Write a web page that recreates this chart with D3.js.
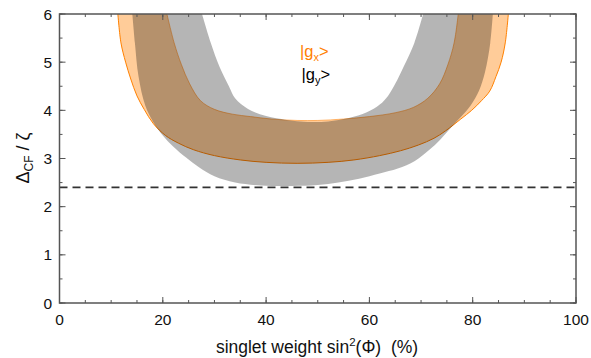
<!DOCTYPE html>
<html><head><meta charset="utf-8">
<script src="https://cdn.jsdelivr.net/npm/d3@7"></script>
<style>body{margin:0;background:#fff}svg{display:block}text{font-family:"Liberation Sans",Arial,sans-serif}</style>
</head><body>
<script>
// x = singlet weight (%), y = Delta_CF / zeta
const gxLower = [[11.3,6],[11.9,5.4],[12.8,5.0],[13.8,4.65],[15,4.3],[16.4,4.02],[18.2,3.72],[20.5,3.48],[23,3.32],[26,3.18],[30,3.06],[35,2.97],[40,2.92],[46,2.90],[52,2.92],[57,2.97],[62,3.06],[66,3.16],[69.5,3.28],[72.5,3.42],[74.7,3.57],[77.7,3.82],[79.8,4.0],[81.7,4.2],[83.3,4.4],[84.5,4.7],[85.5,5.0],[86.3,5.4],[86.9,6]];
const gxUpper = [[20.8,6],[22.2,5.4],[23.6,4.95],[25.2,4.55],[27.3,4.2],[30,4.02],[33.5,3.92],[37,3.87],[41,3.82],[46,3.79],[50,3.79],[55,3.82],[60,3.87],[65,3.95],[68.5,4.06],[71.3,4.25],[73.6,4.55],[75.2,4.95],[76.4,5.4],[77.2,6]];
const gyLower = [[14.1,6],[14.6,5.4],[15.3,4.7],[16.6,4.1],[18.2,3.75],[20,3.48],[22,3.25],[24.5,3.02],[27,2.82],[30,2.63],[34,2.5],[39,2.44],[45,2.43],[50,2.45],[54,2.5],[58,2.58],[62,2.69],[65.5,2.79],[68.8,2.95],[71.5,3.17],[73.7,3.39],[75.6,3.62],[77.7,3.86],[79.6,4.1],[81.2,4.4],[82.4,4.8],[83.4,5.4],[83.9,6]];
const gyUpper = [[27.6,6],[29.3,5.4],[31,4.9],[32.8,4.5],[34,4.25],[36.5,4.03],[40,3.88],[44,3.8],[48,3.76],[52,3.77],[56,3.84],[59.5,3.96],[62,4.12],[63.6,4.3],[65,4.55],[66.6,4.9],[68.7,5.4],[70.4,6]];
const threshold = 2.4;
const xTicks = [0,20,40,60,80,100];
const yTicks = [0,1,2,3,4,5,6];

const W=591,H=358;
const svg=d3.select("body").append("svg").attr("width",W).attr("height",H);
const x=d3.scaleLinear().domain([0,100]).range([59.5,576]);
const y=d3.scaleLinear().domain([0,6]).range([303,14]);

svg.append("clipPath").attr("id","clip").append("rect")
  .attr("x",x(0)).attr("y",y(6)).attr("width",x(100)-x(0)).attr("height",y(0)-y(6));
const g=svg.append("g").attr("clip-path","url(#clip)");

const line=d3.line().x(d=>x(d[0])).y(d=>y(d[1])).curve(d3.curveCatmullRom.alpha(0.5));
function band(lo,up){
  return line(lo)+"L"+line(up.slice().reverse()).slice(1)+"Z";
}
g.append("path").attr("d",band(gxLower,gxUpper)).attr("fill","#ffcc99").attr("stroke","none");
g.append("path").attr("d",line(gxUpper)).attr("fill","none").attr("stroke","#ff8c1a").attr("stroke-width",0.6);
g.append("path").attr("d",line(gxLower)).attr("fill","none").attr("stroke","#ff8000").attr("stroke-width",1);
g.append("path").attr("d",band(gyLower,gyUpper)).attr("fill","#000").attr("fill-opacity",0.29).attr("stroke","none");

g.append("line").attr("x1",x(0)).attr("x2",x(100)).attr("y1",y(threshold)).attr("y2",y(threshold))
  .attr("stroke","#333").attr("stroke-width",1.6).attr("stroke-dasharray","8,5");

// axes
const ac="#555";
const minorX=d3.range(0,101,5), minorY=d3.range(0,6.01,0.5);
const ax=svg.append("g");
function ticks(vals, isX, len){
  vals.forEach(v=>{
    if(isX){
      ax.append("line").attr("x1",x(v)).attr("x2",x(v)).attr("y1",y(0)).attr("y2",y(0)-len).attr("stroke",ac);
      ax.append("line").attr("x1",x(v)).attr("x2",x(v)).attr("y1",y(6)).attr("y2",y(6)+len).attr("stroke",ac);
    } else {
      ax.append("line").attr("y1",y(v)).attr("y2",y(v)).attr("x1",x(0)).attr("x2",x(0)+len).attr("stroke",ac);
      ax.append("line").attr("y1",y(v)).attr("y2",y(v)).attr("x1",x(100)).attr("x2",x(100)-len).attr("stroke",ac);
    }
  });
}
ticks(minorX,true,3); ticks(xTicks,true,6);
ticks(minorY,false,3); ticks(yTicks,false,6);
ax.append("rect").attr("x",x(0)).attr("y",y(6)).attr("width",x(100)-x(0)).attr("height",y(0)-y(6))
  .attr("fill","none").attr("stroke",ac).attr("stroke-width",1.5);

xTicks.forEach(v=>svg.append("text").attr("x",x(v)).attr("y",324.5).attr("text-anchor","middle")
  .attr("font-size",15.5).attr("fill","#111").text(v));
yTicks.forEach(v=>svg.append("text").attr("x",52).attr("y",y(v)+5.5).attr("text-anchor","end")
  .attr("font-size",15.5).attr("fill","#111").text(v));

const xt=svg.append("text").attr("x",317).attr("y",353).attr("text-anchor","middle").attr("font-size",17.5).attr("fill","#111");
xt.append("tspan").text("singlet weight sin");
xt.append("tspan").attr("font-size",11.5).attr("dy",-7).text("2");
xt.append("tspan").attr("dy",7).text("(\u03A6)\u00A0\u00A0(%)");

const yt=svg.append("text").attr("transform","translate(29,158) rotate(-90)").attr("text-anchor","middle").attr("font-size",18).attr("fill","#111");
yt.append("tspan").text("\u0394");
yt.append("tspan").attr("font-size",12).attr("dy",4).text("CF");
yt.append("tspan").attr("dy",-4).text("\u00A0/\u00A0\u03B6");

const l1=svg.append("text").attr("x",300).attr("y",57).attr("font-size",16.5).attr("fill","#ff8000");
l1.append("tspan").text("|g");
l1.append("tspan").attr("font-size",11).attr("dy",4).text("x");
l1.append("tspan").attr("dy",-4).text(">");
const l2=svg.append("text").attr("x",301.5).attr("y",80).attr("font-size",16.5).attr("fill","#000");
l2.append("tspan").text("|g");
l2.append("tspan").attr("font-size",11).attr("dy",4).text("y");
l2.append("tspan").attr("dy",-4).text(">");
</script>
</body></html>
